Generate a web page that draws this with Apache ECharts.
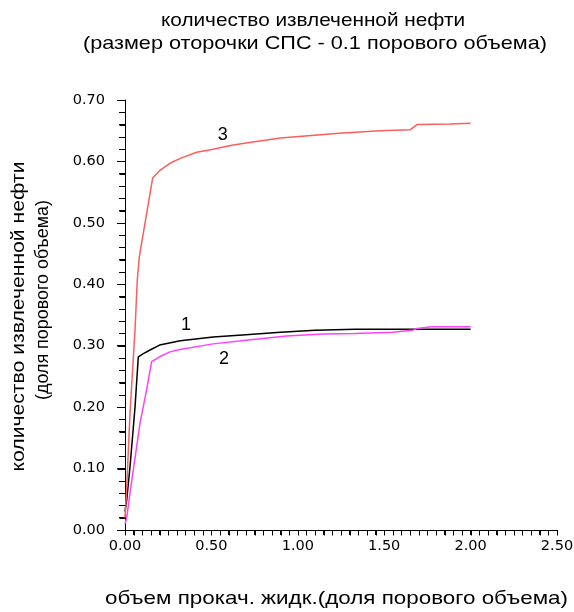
<!DOCTYPE html>
<html><head><meta charset="utf-8">
<script src="https://cdn.jsdelivr.net/npm/echarts@6/dist/echarts.min.js"></script>
<style>html,body{margin:0;padding:0;background:#fff}#c{width:574px;height:612px}</style>
</head><body><div id="c"></div>
<script>
var titleLines = ['количество извлеченной нефти', '(размер оторочки СПС - 0.1 порового объема)'];
var xAxisTitle = 'объем прокач. жидк.(доля порового объема)';
var yAxisTitle = ['количество извлеченной нефти', '(доля порового объема)'];

var xTicks = [0, 0.5, 1.0, 1.5, 2.0, 2.5];
var yTicks = [0, 0.1, 0.2, 0.3, 0.4, 0.5, 0.6, 0.7];

var x1 = [0, 0.01, 0.029, 0.058, 0.077, 0.083, 0.106, 0.145, 0.2, 0.32, 0.51, 0.70, 0.9, 1.1, 1.33, 1.69, 2.0];
var y1 = [0.03, 0.049, 0.103, 0.2, 0.282, 0.283, 0.287, 0.293, 0.301, 0.308, 0.314, 0.318, 0.322, 0.325, 0.327, 0.327, 0.327];

var x2 = [0, 0.01, 0.029, 0.087, 0.125, 0.154, 0.16, 0.2, 0.26, 0.318, 0.51, 0.70, 0.935, 1.148, 1.33, 1.55, 1.67, 1.69, 1.775, 2.0];
var y2 = [0.01, 0.02, 0.06, 0.174, 0.228, 0.274, 0.277, 0.282, 0.29, 0.294, 0.303, 0.309, 0.316, 0.319, 0.32, 0.322, 0.3257, 0.328, 0.331, 0.331];

var x3 = [0, 0.01, 0.029, 0.058, 0.071, 0.083, 0.16, 0.20, 0.26, 0.32, 0.415, 0.51, 0.61, 0.70, 0.90, 1.06, 1.24, 1.476, 1.65, 1.69, 1.88, 2.0];
var y3 = [0.02, 0.07, 0.19, 0.326, 0.407, 0.445, 0.573, 0.585, 0.597, 0.605, 0.615, 0.62, 0.626, 0.63, 0.638, 0.642, 0.646, 0.650, 0.6515, 0.66, 0.661, 0.662];

var curveNames = ['1', '2', '3'];
var labelPos = [[0.353, 0.334], [0.573, 0.278], [0.565, 0.643]];
var colors = ['#000000', '#ff40ff', '#ff5c5c'];

function pairs(xs, ys) { return xs.map(function (x, i) { return [x, ys[i]]; }); }
var font = 'Liberation Sans';
var tickFont = 'DejaVu Sans';
var data = [pairs(x1, y1), pairs(x2, y2), pairs(x3, y3)];

// tick marks: [value, kind] kind 0 = x major, 1 = x minor, 2 = y major, 3 = y minor
var tickData = [];
function addTicks(ticks, nMinor, majorKind) {
  ticks.forEach(function (t, i) {
    tickData.push([t, majorKind]);
    if (i < ticks.length - 1) {
      var step = (ticks[i + 1] - t) / nMinor;
      for (var k = 1; k < nMinor; k++) tickData.push([t + step * k, majorKind + 1]);
    }
  });
}
addTicks(xTicks, 10, 0);
addTicks(yTicks, 5, 2);
var tickLen = [5, 5, 8, 6];

var fs = 18.5;
var ctx = document.createElement('canvas').getContext('2d');
ctx.font = fs + 'px ' + font;
function txt(t, x, y, width, rot) {
  var w = ctx.measureText(t).width;
  return {
    type: 'text', x: x, y: y, rotation: rot || 0, scaleX: width / w,
    style: { text: t, font: fs + 'px ' + font, fill: '#000', textAlign: 'center', textVerticalAlign: 'middle' }
  };
}

var tickSeries = {
  type: 'custom', silent: true, clip: false, z: 5,
  data: tickData,
  dimensions: ['v', 'kind'],
  encode: { x: 0, y: 1 },
  renderItem: function (params, api) {
    var v = api.value(0), kind = api.value(1), len = tickLen[kind];
    var p, shape;
    if (kind < 2) {
      p = api.coord([v, 0]);
      var x = Math.round(p[0]) + 0.5, y = Math.round(p[1]) + 0.5;
      shape = { x1: x, y1: y, x2: x, y2: y + len };
    } else {
      p = api.coord([0, v]);
      var xx = Math.round(p[0]) + 0.5, yy = Math.round(p[1]) + 0.5;
      shape = { x1: xx - len, y1: yy, x2: xx, y2: yy };
    }
    return { type: 'line', shape: shape, style: { stroke: '#000', lineWidth: 1 } };
  }
};

var lineSeries = data.map(function (d, i) {
  return {
    type: 'line', data: d, showSymbol: false, symbol: 'none',
    lineStyle: { color: colors[i], width: 1.5 },
    markPoint: {
      symbol: 'circle', symbolSize: 0,
      label: { show: true, position: 'inside', formatter: curveNames[i], fontSize: 18, color: '#000', fontFamily: font },
      data: [{ coord: labelPos[i] }]
    }
  };
});

var chart = echarts.init(document.getElementById('c'));
chart.setOption({
  animation: false,
  graphic: [
    txt(titleLines[0], 313, 21, 304),
    txt(titleLines[1], 315, 44, 464),
    txt(xAxisTitle, 336.5, 599, 463),
    txt(yAxisTitle[0], 19, 316.5, 310, Math.PI / 2),
    txt(yAxisTitle[1], 43, 300, 200, Math.PI / 2)
  ],
  grid: { left: 125, top: 100, right: 17, bottom: 82, outerBoundsMode: 'none' },
  xAxis: {
    type: 'value', min: 0, max: 2.5, interval: 0.5,
    axisLine: { show: true, lineStyle: { color: '#000' } },
    axisTick: { show: true, length: 5, lineStyle: { color: '#000', width: 1 } },
    minorTick: { show: true, splitNumber: 10, length: 5, lineStyle: { color: '#000', width: 1 } },
    splitLine: { show: true, lineStyle: { color: 'rgba(0,0,0,0)' } },
    axisLabel: { fontSize: 14.5, fontFamily: tickFont, color: '#000', margin: 9, formatter: function (v) { return v.toFixed(2); } }
  },
  yAxis: {
    type: 'value', min: 0, max: 0.7, interval: 0.1,
    axisLine: { show: true, lineStyle: { color: '#000' } },
    axisTick: { show: true, length: 8, lineStyle: { color: '#000', width: 1 } },
    minorTick: { show: true, splitNumber: 5, length: 6, lineStyle: { color: '#000', width: 1 } },
    splitLine: { show: true, lineStyle: { color: 'rgba(0,0,0,0)' } },
    axisLabel: { fontSize: 14.5, fontFamily: tickFont, color: '#000', margin: 20, formatter: function (v) { return v.toFixed(2); } }
  },
  series: [tickSeries].concat(lineSeries)
});
</script></body></html>
